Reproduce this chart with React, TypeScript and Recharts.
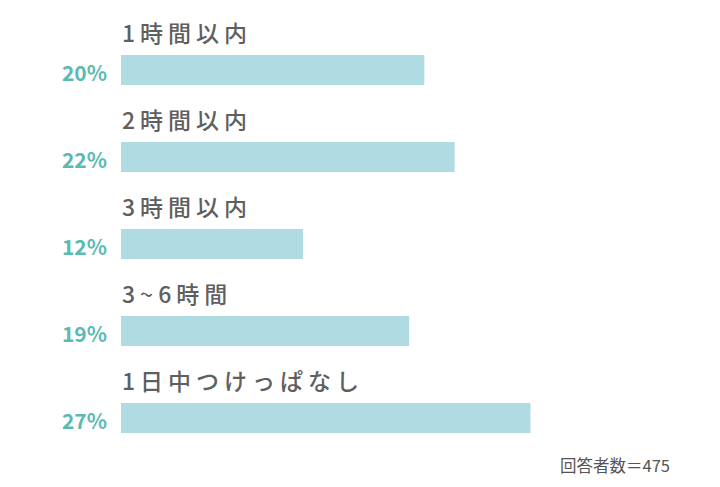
import React from 'react';
import { BarChart, Bar, XAxis, YAxis, LabelList } from 'recharts';

const categories = ['1時間以内', '2時間以内', '3時間以内', '3~6時間', '1日中つけっぱなし'];
const shares = [20, 22, 12, 19, 27];
const note = '回答者数＝475';

const data = categories.map((name, i) => ({ name, value: shares[i] }));

const FONT = '"Noto Sans CJK JP", "Noto Sans", sans-serif';

function NameLabel(props: any) {
  const { x, y, value } = props;
  return (
    <text
      x={x + 1}
      y={y - 23}
      fill="#5f5f5f"
      fontSize={23}
      fontWeight={500}
      fontFamily={FONT}
      letterSpacing={5}
      dominantBaseline="central"
    >
      {value}
    </text>
  );
}

function PctLabel(props: any) {
  const { x, y, height, value } = props;
  return (
    <text
      x={x - 14}
      y={y + height / 2 + 2}
      fill="#5bbab3"
      fontSize={21}
      fontWeight={700}
      fontFamily={FONT}
      textAnchor="end"
      dominantBaseline="central"
    >
      {value}%
    </text>
  );
}

export default function App() {
  return (
    <div style={{ position: 'absolute', left: 0, top: 0, width: 720, height: 487, background: '#fff' }}>
      <BarChart
        width={720}
        height={487}
        data={data}
        layout="vertical"
        margin={{ top: 26, right: 144, bottom: 26, left: 121 }}
      >
        <XAxis type="number" domain={[0, 30]} hide />
        <YAxis type="category" dataKey="name" hide />
        <Bar dataKey="value" fill="#b1dbe3" barSize={30} isAnimationActive={false}>
          <LabelList dataKey="name" content={<NameLabel />} />
          <LabelList dataKey="value" content={<PctLabel />} />
        </Bar>
      </BarChart>
      <div
        style={{
          position: 'absolute',
          left: 560,
          top: 453,
          fontSize: 16.5,
          color: '#555',
          fontFamily: FONT,
          whiteSpace: 'nowrap',
        }}
      >
        {note}
      </div>
    </div>
  );
}
